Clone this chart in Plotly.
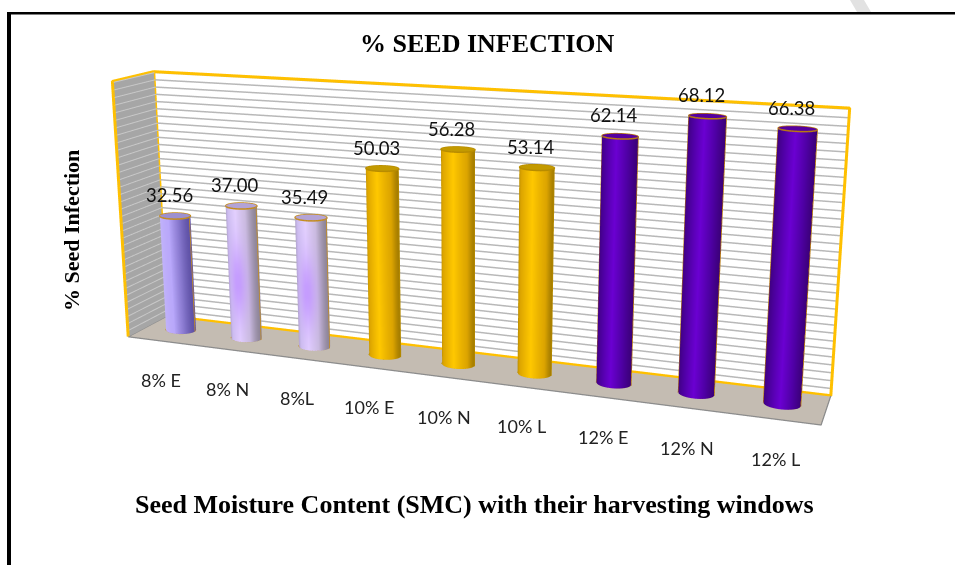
import numpy as np
import plotly.graph_objects as go

categories = ["8% E","8% N","8%L","10% E","10% N","10% L","12% E","12% N","12% L"]
infection = [32.56,37.00,35.49,50.03,56.28,53.14,62.14,68.12,66.38]
labels = ["32.56","37.00","35.49","50.03","56.28","53.14","62.14","68.12","66.38"]

W, H = 955, 565
AXIS_MAX = 70.25
BAR_DEPTH = 0.522
SHEAR_X_Z, SHEAR_X_Y, SHEAR_Z_Y = -0.0038, 0.2339, 4.7240
XR = (-6.0-SHEAR_X_Y*BAR_DEPTH, 15.0-SHEAR_X_Y*BAR_DEPTH)
YR = (0.0, 1.0)
ZR = (-10.0-SHEAR_Z_Y*BAR_DEPTH, 80.0-SHEAR_Z_Y*BAR_DEPTH)
EYE = (0.5213, -2.4865, 0.1999)
CENTER = (0.0859, -0.0046, -0.1426)
UP = (-0.1000, 0.1188, 0.9879)
ASPECT = (6.1355, 0.1535, 1.2864)

def S(x, y, z):
    x, y, z = np.asarray(x, float), np.asarray(y, float), np.asarray(z, float)
    return x+SHEAR_X_Z*z+SHEAR_X_Y*(y-BAR_DEPTH), y, z+SHEAR_Z_Y*(y-BAR_DEPTH)

FLAT = dict(ambient=1, diffuse=0, specular=0, fresnel=0)
traces = []

def quad(a, b, c, d, color):
    pts = np.array([a, b, c, d], float)
    X, Y, Z = S(pts[:, 0], pts[:, 1], pts[:, 2])
    traces.append(go.Mesh3d(x=X, y=Y, z=Z, i=[0, 0], j=[1, 2], k=[2, 3], color=color, hoverinfo="skip",
                            lighting=FLAT, flatshading=True))

def lines(segs, color, width):
    xs, ys, zs = [], [], []
    for seg in segs:
        seg = np.array(seg, float)
        X, Y, Z = S(seg[:, 0], seg[:, 1], seg[:, 2])
        xs += list(X)+[None]; ys += list(Y)+[None]; zs += list(Z)+[None]
    traces.append(go.Scatter3d(x=xs, y=ys, z=zs, mode="lines", line=dict(color=color, width=width), hoverinfo="skip"))

def rgb(h):
    return np.array([int(h[i:i+2], 16) for i in (1, 3, 5)], float)

def shade(stops, t):
    pos = [s[0] for s in stops]
    cols = np.array([rgb(s[1]) for s in stops])
    return np.array([np.interp(t, pos, cols[:, i]) for i in range(3)])

N = len(categories)
quad((0,1,0),(N,1,0),(N,1,AXIS_MAX),(0,1,AXIS_MAX), "#ffffff")
quad((0,0,0),(0,1,0),(0,1,AXIS_MAX),(0,0,AXIS_MAX), "#a6a6a6")
quad((0,0,0),(N,0,0),(N,1,0),(0,1,0), "#c4bcb2")
grid_values = np.arange(2, AXIS_MAX, 2.0)
lines([[(0,.995,v),(N,.995,v)] for v in grid_values], "#b8b8b8", 3)
lines([[(.01,0,v),(.01,1,v)] for v in grid_values], "#c8c8c8", 2)
lines([[(0,0,.15),(N,0,.15),(N,1,.15)],[(0,0,.15),(0,1,.15)]], "#8c8c8c", 2.5)
lines([[(0,.99,.2),(N,.99,.2),(N,.99,AXIS_MAX),(0,.99,AXIS_MAX),(0,.99,.2)],
       [(0,0,.2),(0,0,AXIS_MAX),(0,.99,AXIS_MAX)]], "#ffc000", 6)

pale0 = [(0,"#c4b6fa"),(.5,"#b9a8fb"),(.8,"#8a7ad0"),(1,"#6053a8")]
pale1 = [(0,"#a497bd"),(.2,"#cdbdf0"),(.5,"#e4d2ff"),(.8,"#cbbce0"),(1,"#8f8699")]
gold = [(0,"#b88c00"),(.12,"#dca400"),(.5,"#ffc800"),(.88,"#dca400"),(1,"#a67e00")]
deep = [(0,"#3f0080"),(.2,"#4f00a4"),(.5,"#6c00d2"),(.8,"#4f00a4"),(1,"#3c007a")]
fills = [pale0, pale1, pale1, gold, gold, gold, deep, deep, deep]
glows = [False, True, True, False, False, False, False, False, False]
caps = ["#9d90cf","#b3a3d6","#b3a3d6","#c39a00","#c39a00","#c39a00","#55009f","#55009f","#55009f"]
rims = ["#c48c1c","#c48c1c","#c48c1c","#b88c00","#b88c00","#b88c00","#b87a10","#b87a10","#b87a10"]
RX, RY = 0.21, 0.17
th = np.linspace(0, 2*np.pi, 61)
rows = np.linspace(0, 1, 13)
annots = []
for i, v in enumerate(infection):
    cx = i+.5
    T, Rw = np.meshgrid(th, rows)
    X, Y, Z = S(cx+RX*np.cos(T), BAR_DEPTH+RY*np.sin(T), Rw*v)
    t = (np.cos(T)+1)/2
    col = np.stack([np.array(shade(fills[i], t.ravel()))[c] for c in range(3)], -1)
    if glows[i]:
        w = (np.exp(-((t.ravel()-.5)/.28)**2)*np.exp(-((Rw.ravel()-.45)/.28)**2)*.8)[:, None]
        col = col*(1-w)+rgb("#bd8eff")*w
    vc = [f"rgb({int(a)},{int(b)},{int(c)})" for a, b, c in col]
    nr, nt = T.shape
    I, J, K = [], [], []
    for r in range(nr-1):
        for c in range(nt-1):
            q = r*nt+c
            I += [q, q]; J += [q+1, q+nt+1]; K += [q+nt+1, q+nt]
    traces.append(go.Mesh3d(x=X.ravel(), y=Y.ravel(), z=Z.ravel(), i=I, j=J, k=K, vertexcolor=vc,
                            hoverinfo="skip", lighting=FLAT))
    cap_x, cap_y, cap_z = S(np.r_[cx, cx+RX*np.cos(th)], np.r_[BAR_DEPTH, BAR_DEPTH+RY*np.sin(th)], np.full(62, v))
    traces.append(go.Mesh3d(x=cap_x, y=cap_y, z=cap_z, i=[0]*60, j=list(range(1, 61)), k=list(range(2, 62)),
                            color=caps[i], hoverinfo="skip", lighting=FLAT, flatshading=True))
    rim = np.stack([cx+RX*np.cos(th), BAR_DEPTH+RY*np.sin(th), v+0*th], -1)
    base = np.stack([cx+RX*np.cos(th), BAR_DEPTH+RY*np.sin(th), 0*th], -1)[np.sin(th) <= 0.01]
    lines([rim.tolist(), base.tolist(), [(cx-RX,BAR_DEPTH,0),(cx-RX,BAR_DEPTH,v)], [(cx+RX,BAR_DEPTH,0),(cx+RX,BAR_DEPTH,v)]], rims[i], 3)
    x0, y0, z0 = S(cx, BAR_DEPTH, v)
    annots.append(dict(x=float(x0), y=float(y0), z=float(z0), text=labels[i], showarrow=False, yshift=21, xshift=-6,
                       font=dict(family="Lato", size=18.5, color="#111111")))
    x1, y1, z1 = S(cx, 0, 0)
    annots.append(dict(x=float(x1), y=float(y1), z=float(z1), text=categories[i], showarrow=False, yshift=-39, xshift=0,
                       font=dict(family="Lato", size=18, color="#222222")))

fig = go.Figure(traces)
hid = dict(visible=False, autorange=False)
fig.update_layout(
    width=W, height=H, margin=dict(l=0, r=0, t=0, b=0), showlegend=False, paper_bgcolor="white",
    scene=dict(domain=dict(x=[0,1], y=[0,1]), bgcolor="rgba(0,0,0,0)", dragmode=False, annotations=annots,
               xaxis=dict(range=list(XR), **hid), yaxis=dict(range=list(YR), **hid), zaxis=dict(range=list(ZR), **hid),
               aspectmode="manual", aspectratio=dict(x=ASPECT[0], y=ASPECT[1], z=ASPECT[2]),
               camera=dict(eye=dict(x=EYE[0], y=EYE[1], z=EYE[2]), center=dict(x=CENTER[0], y=CENTER[1], z=CENTER[2]),
                           up=dict(x=UP[0], y=UP[1], z=UP[2]))),
    shapes=[dict(type="rect", xref="paper", yref="paper", x0=7/W, x1=11/W, y0=0, y1=1-12/H, fillcolor="#000", line_width=0),
            dict(type="rect", xref="paper", yref="paper", x0=7/W, x1=1, y0=1-14.5/H, y1=1-12/H, fillcolor="#000", line_width=0),
            dict(type="path", xref="paper", yref="paper", line_width=0, fillcolor="#e2e2e2",
                 path=f"M {850/W} 1 L {864/W} 1 L {871/W} {1-12/H} L {857/W} {1-12/H} Z")],
    annotations=[
        dict(x=487/W, y=1-44/H, xref="paper", yref="paper", xanchor="center", yanchor="middle", text="<b>% SEED INFECTION</b>", showarrow=False,
             font=dict(family="Liberation Serif", size=26, color="#000")),
        dict(x=72/W, y=1-231/H, xref="paper", yref="paper", xanchor="center", yanchor="middle", text="<b>% Seed Infection</b>", textangle=-90, showarrow=False,
             font=dict(family="Liberation Serif", size=22, color="#000")),
        dict(x=474/W, y=1-504/H, xref="paper", yref="paper", xanchor="center", yanchor="middle", text="<b>Seed Moisture Content (SMC) with their harvesting windows</b>", showarrow=False,
             font=dict(family="Liberation Serif", size=26, color="#000")),
    ])
fig.write_html("out.html", config=dict(displayModeBar=False),
               post_script="document.body.style.margin='0';document.documentElement.style.overflow='hidden';")
